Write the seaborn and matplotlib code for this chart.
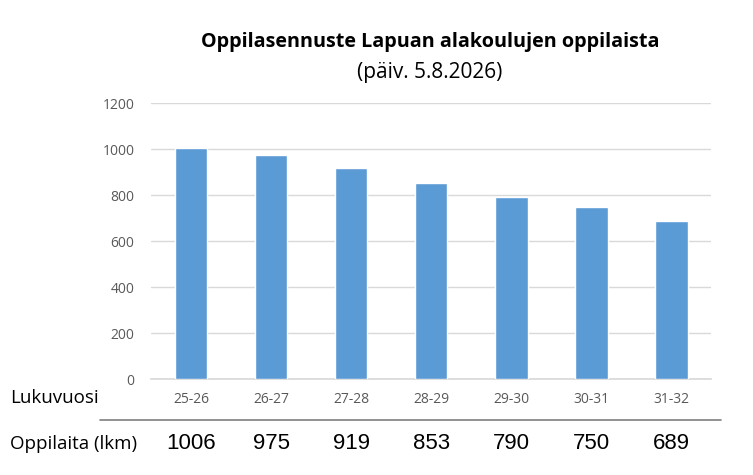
import matplotlib
matplotlib.use("Agg")
import matplotlib.pyplot as plt
import matplotlib.transforms as mtransforms
import seaborn as sns
import pandas as pd

# chart data
school_years = ["25-26", "26-27", "27-28", "28-29", "29-30", "30-31", "31-32"]
pupils = [1006, 975, 919, 853, 790, 750, 689]
y_ticks = [0, 200, 400, 600, 800, 1000, 1200]

sns.set_theme(style="white")
plt.rcParams['font.family'] = ['Open Sans', 'DejaVu Sans']

df = pd.DataFrame({"Lukuvuosi": school_years, "Oppilaita": pupils})

fig = plt.figure(figsize=(7.53, 4.75), dpi=100)
ax = fig.add_axes([0.2005, 0.202, 0.744, 0.581])

sns.barplot(data=df, x="Lukuvuosi", y="Oppilaita", color="#5B9BD5",
            width=0.41, saturation=1, ax=ax, zorder=3)

ax.set_ylim(0, 1200)
ax.set_yticks(y_ticks)
ax.set_xlim(-0.5, len(school_years) - 0.5)
ax.yaxis.grid(True, color="#D9D9D9", linewidth=1, zorder=0)
ax.set_axisbelow(True)
for side in ["top", "right", "left"]:
    ax.spines[side].set_visible(False)
ax.spines["bottom"].set_color("#D9D9D9")
ax.tick_params(axis="both", length=0, labelsize=10, labelcolor="#595959")
ax.tick_params(axis="x", pad=9)
ax.tick_params(axis="y", pad=12)
ax.set_xlabel("")
ax.set_ylabel("")

fig.text(0.571, 0.912, "Oppilasennuste Lapuan alakoulujen oppilaista",
         ha="center", va="center", fontsize=14.2, fontweight="bold", color="black")
fig.text(0.571, 0.848, "(päiv. 5.8.2026)", ha="center", va="center",
         fontsize=15, color="black")

# row labels and value row under the chart
fig.text(0.013, 0.163, "Lukuvuosi", ha="left", va="center", fontsize=13.5, color="black")
fig.text(0.013, 0.065, "Oppilaita (lkm)", ha="left", va="center", fontsize=13.5, color="black")
fig.add_artist(plt.Line2D([0.133, 0.958], [0.116, 0.116], color="#7F7F7F",
                          linewidth=1.2, transform=fig.transFigure))

trans = mtransforms.blended_transform_factory(ax.transData, fig.transFigure)
for i, v in enumerate(pupils):
    ax.text(i, 0.067, str(v), transform=trans, ha="center", va="center",
            fontsize=16, color="black", family=["Liberation Sans", "DejaVu Sans"],
            clip_on=False)

fig.savefig("out.png", dpi=100)
